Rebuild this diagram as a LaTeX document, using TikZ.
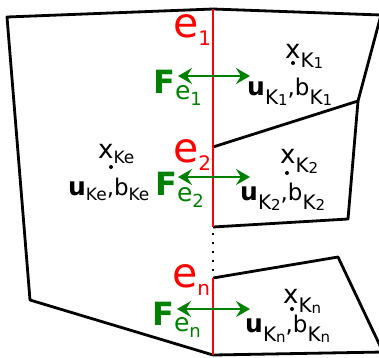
\documentclass[tikz,border=0pt]{standalone}
\usepackage{fontspec}
\setmainfont{DejaVu Sans}
\usepackage{xcolor}
\usetikzlibrary{arrows.meta}
\definecolor{faceRed}{HTML}{FF0000}
\definecolor{fluxGreen}{HTML}{008000}

% cell index K_i and the labels built on it
\newcommand{\kidx}[1]{K\raisebox{-1pt}{\fontsize{15}{15}\selectfont #1}}
\newcommand{\xlab}[1]{{\fontsize{26}{26}\selectfont x}\raisebox{-9pt}{\fontsize{20}{20}\selectfont #1}}
\newcommand{\ublab}[1]{{\fontsize{25}{25}\selectfont\bfseries u}\raisebox{-9pt}{\fontsize{20}{20}\selectfont #1}{\fontsize{23}{23}\selectfont ,b}\raisebox{-9pt}{\fontsize{20}{20}\selectfont #1}}
\newcommand{\elab}[1]{{\fontsize{41}{41}\selectfont e}\raisebox{-8pt}{\fontsize{20}{20}\selectfont #1}}
\newcommand{\flab}[1]{{\fontsize{32}{32}\selectfont\bfseries F}\raisebox{-6pt}{\fontsize{25}{25}\selectfont e\raisebox{-6pt}{\fontsize{18}{18}\selectfont #1}}}

\begin{document}
\begin{tikzpicture}[x=1pt, y=-1pt,
  cellline/.style={black, line width=2.8pt, line join=round},
  faceline/.style={faceRed, line width=2.4pt},
  flux/.style={fluxGreen, line width=2.8pt,
    {Stealth[length=14pt,width=16pt,inset=5pt]}-{Stealth[length=14pt,width=16pt,inset=5pt]}},
  lbl/.style={anchor=base west, inner sep=0pt},
  centre/.style={circle, fill=black, inner sep=0pt, minimum size=4pt}]
  \useasboundingbox (0,0) rectangle (379,357);
  \clip (0,0) rectangle (379,357);

  % Mesh vertices
  \coordinate (top) at (213,9);
  \coordinate (tl) at (7,17);
  \coordinate (bl) at (30,300);
  \coordinate (bot) at (213,355);
  \coordinate (tr) at (381,15);
  \coordinate (m1) at (358,101);
  \coordinate (v2) at (213,147);
  \coordinate (m2) at (348,219);
  \coordinate (v3) at (213,227);
  \coordinate (vn) at (213,278);
  \coordinate (mn) at (338,257);
  \coordinate (rn) at (383,352);
  \coordinate (br) at (383,352);

  % Cells
  \draw[cellline] (top) -- (tl) -- (bl) -- (bot);
  \draw[cellline] (top) -- (tr) -- (m1) -- (v2);
  \draw[cellline] (m1) -- (m2) -- (v3);
  \draw[cellline] (vn) -- (mn) -- (rn);
  \draw[cellline] (bot) -- (br);

  % Faces e_1 ... e_n
  \draw[faceline] (top) -- (v3);
  \draw[faceline] (vn) -- (bot);
  \draw[black, line width=2.4pt, dash pattern=on 2.4pt off 6.6pt] (213,233) -- (213,275);

  \node[lbl, text=faceRed] (e1) at (173,37) {\elab{1}};
  \node[lbl, text=faceRed] (e2) at (173,162) {\elab{2}};
  \node[lbl, text=faceRed] (en) at (172,287) {\elab{n}};

  % Fluxes
  \coordinate (f1l) at (178,76);
  \coordinate (f1r) at (250,76);
  \coordinate (f2l) at (178,177);
  \coordinate (f2r) at (250,177);
  \coordinate (fnl) at (177,309);
  \coordinate (fnr) at (250,309);
  \draw[flux] (f1l) -- (f1r);
  \draw[flux] (f2l) -- (f2r);
  \draw[flux] (fnl) -- (fnr);
  \node[lbl, text=fluxGreen] (F1) at (153,93) {\flab{1}};
  \node[lbl, text=fluxGreen] (F2) at (155,195) {\flab{2}};
  \node[lbl, text=fluxGreen] (Fn) at (152,325) {\flab{n}};

  % Cell centres and unknowns
  \node[centre] (cK1) at (293,63) {};
  \node[centre] (cK2) at (287,173) {};
  \node[centre] (cKn) at (292,309) {};
  \node[centre] (cKe) at (111,167) {};
  \node[lbl] (xK1) at (285,58) {\xlab{\kidx{1}}};
  \node[lbl] (xK2) at (280,163) {\xlab{\kidx{2}}};
  \node[lbl] (xKn) at (283,303) {\xlab{\kidx{n}}};
  \node[lbl] (xKe) at (98,158) {\xlab{\fontsize{17}{17}\selectfont\raisebox{4pt}{Ke}}};
  \node[lbl] (uK1) at (247,95) {\ublab{\kidx{1}}};
  \node[lbl] (uK2) at (240,200) {\ublab{\kidx{2}}};
  \node[lbl] (uKn) at (245,332) {\ublab{\kidx{n}}};
  \node[lbl] (uKe) at (68,195) {\ublab{\fontsize{17}{17}\selectfont\raisebox{4pt}{Ke}}};
\end{tikzpicture}
\end{document}
